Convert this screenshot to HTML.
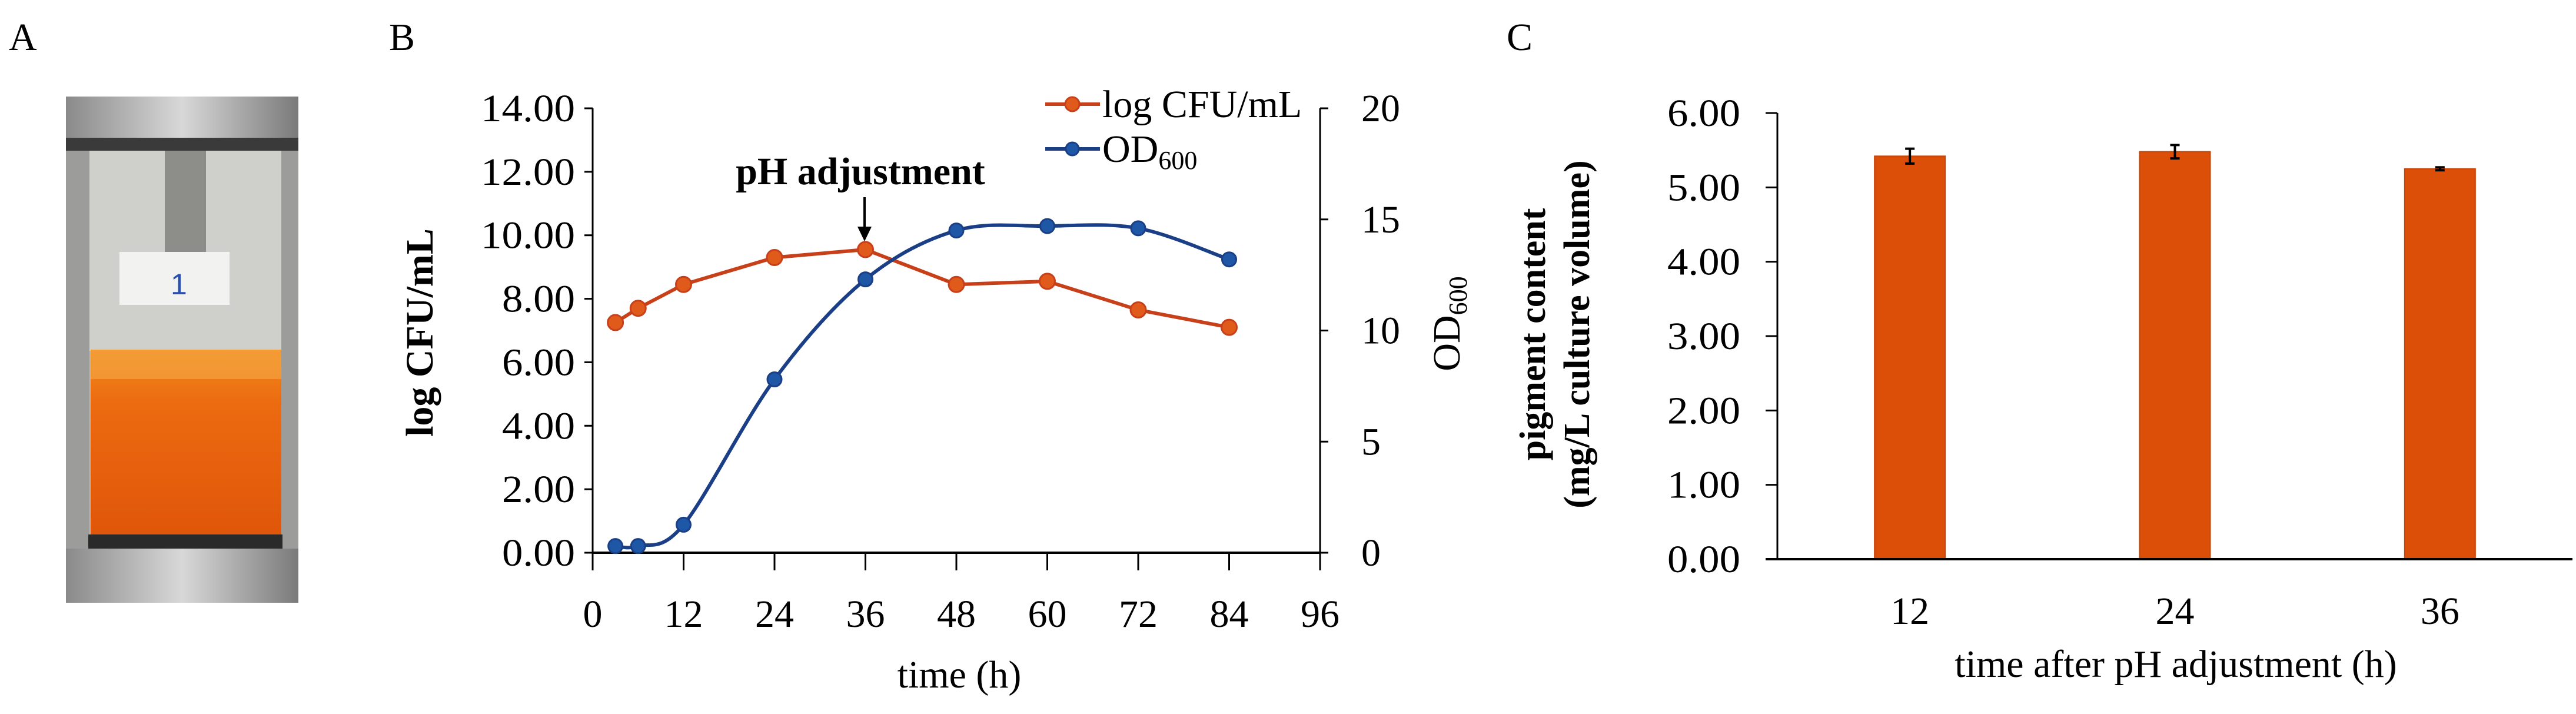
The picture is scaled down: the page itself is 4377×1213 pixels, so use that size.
<!DOCTYPE html>
<html><head><meta charset="utf-8"><style>
html,body{margin:0;padding:0;background:#fff;}
svg{display:block;font-family:"Liberation Serif",serif;}
</style></head><body>
<svg id="fig" width="4377" height="1213" viewBox="0 0 4377 1213" xmlns="http://www.w3.org/2000/svg">
<defs>
<linearGradient id="liq" x1="0" y1="0" x2="0" y2="1"><stop offset="0" stop-color="#f08a1c"/><stop offset="0.3" stop-color="#ec6a10"/><stop offset="1" stop-color="#e0560a"/></linearGradient>
<linearGradient id="metal" x1="0" y1="0" x2="1" y2="0"><stop offset="0" stop-color="#8a8a8a"/><stop offset="0.5" stop-color="#d8d8d8"/><stop offset="1" stop-color="#7a7a7a"/></linearGradient>
</defs>
<g>
<rect x="112" y="164" width="395" height="860" fill="#b9b9b6"/>
<rect x="112" y="164" width="395" height="70" fill="url(#metal)"/>
<rect x="112" y="234" width="395" height="22" fill="#3a3a3a"/>
<rect x="140" y="256" width="350" height="340" fill="#cfd0cc"/>
<rect x="280" y="256" width="70" height="200" fill="#8d8d8a"/>
<rect x="203" y="428" width="187" height="90" fill="#f2f2f0"/>
<text x="290" y="500" font-size="50" fill="#2a4fb0" font-family="Liberation Sans,sans-serif">1</text>
<rect x="154" y="594" width="324" height="314" fill="url(#liq)"/>
<rect x="154" y="594" width="324" height="50" fill="#f4a340" opacity="0.7"/>
<rect x="112" y="256" width="40" height="760" fill="#9c9c9a"/>
<rect x="478" y="256" width="29" height="760" fill="#9c9c9a"/>
<rect x="150" y="908" width="330" height="24" fill="#2a2a2a"/>
<rect x="112" y="932" width="395" height="92" fill="url(#metal)"/>
</g>
<text x="15" y="85" font-size="66">A</text>
<text x="661" y="85" font-size="66">B</text>
<text x="2560" y="85" font-size="66">C</text>
<g id="chartB"></g>
<g id="chartC"></g>
</svg>
<script>
const ns="http://www.w3.org/2000/svg";
function mk(parent,tag,attrs,txt){const e=document.createElementNS(ns,tag);for(const k in attrs)e.setAttribute(k,attrs[k]);if(txt!==undefined)e.textContent=txt;parent.appendChild(e);return e;}

// ---- Chart B data ----
const timeH=[3,6,12,24,36,48,60,72,84];
const logCFU=[7.25,7.7,8.45,9.3,9.55,8.45,8.55,7.65,7.1];
const od600=[0.3,0.3,1.26,7.8,12.3,14.5,14.7,14.6,13.2];
const xTicksB=[0,12,24,36,48,60,72,84,96];
const yLeftTicks=["0.00","2.00","4.00","6.00","8.00","10.00","12.00","14.00"];
const yRightTicks=["0","5","10","15","20"];

const B=document.getElementById('chartB');
const bx0=1007,bx1=2243,by0=939,by1=184;
const xB=v=>bx0+(v/96)*(bx1-bx0);
const yL=v=>by0-(v/14)*(by0-by1);
const yR=v=>by0-(v/20)*(by0-by1);
let e;
e=mk(B,'line',{x1:bx0,y1:by0,x2:bx1,y2:by0,stroke:'#000','stroke-width':4});

e=mk(B,'line',{x1:bx0,y1:by1,x2:bx0,y2:by0+2,stroke:'#000','stroke-width':3});

e=mk(B,'line',{x1:bx1,y1:by1,x2:bx1,y2:by0+30,stroke:'#000','stroke-width':3});

xTicksB.forEach(t=>{
 mk(B,'line',{x1:xB(t),y1:by0,x2:xB(t),y2:by0+30,stroke:'#000','stroke-width':3});
 e=mk(B,'text',{x:xB(t),y:1065,'font-size':66,'text-anchor':'middle'},String(t));
 
});
yLeftTicks.forEach((t,i)=>{
 const y=yL(i*2);
 mk(B,'line',{x1:bx0-14,y1:y,x2:bx0,y2:y,stroke:'#000','stroke-width':3});
 e=mk(B,'text',{x:bx0-30,y:y+22,'font-size':66,'text-anchor':'end','textLength':i>=5?160:124,'lengthAdjust':'spacingAndGlyphs'},t);
 
});
yRightTicks.forEach((t,i)=>{
 const y=yR(i*5);
 mk(B,'line',{x1:bx1,y1:y,x2:bx1+14,y2:y,stroke:'#000','stroke-width':3});
 e=mk(B,'text',{x:bx1+70,y:y+22,'font-size':66,'text-anchor':'start'},t);
 
});
e=mk(B,'text',{x:1630,y:1168,'font-size':66,'text-anchor':'middle'},'time (h)');

e=mk(B,'text',{transform:'translate(735,565) rotate(-90)','font-size':66,'font-weight':'bold','text-anchor':'middle'},'log CFU/mL');

e=mk(B,'text',{transform:'translate(2480,550) rotate(-90)','font-size':66,'text-anchor':'middle'});

mk(e,'tspan',{},'OD');mk(e,'tspan',{'font-size':44,dy:12},'600');

function smooth(pts){let d=`M${pts[0][0]},${pts[0][1]}`;for(let i=0;i<pts.length-1;i++){const p0=pts[Math.max(0,i-1)],p1=pts[i],p2=pts[i+1],p3=pts[Math.min(pts.length-1,i+2)];const c1=[p1[0]+(p2[0]-p0[0])/6,p1[1]+(p2[1]-p0[1])/6],c2=[p2[0]-(p3[0]-p1[0])/6,p2[1]-(p3[1]-p1[1])/6];d+=` C${c1[0]},${c1[1]} ${c2[0]},${c2[1]} ${p2[0]},${p2[1]}`;}return d;}
const red='#c8401a',blue='#1b3f86';
const rp=timeH.map((t,i)=>[xB(t),yL(logCFU[i])]);
e=mk(B,'polyline',{points:rp.map(p=>p.join(',')).join(' '),fill:'none',stroke:red,'stroke-width':6});

const bp=timeH.map((t,i)=>[xB(t),yR(od600[i])]);
e=mk(B,'path',{d:smooth(bp),fill:'none',stroke:blue,'stroke-width':6});

rp.forEach(p=>{e=mk(B,'circle',{cx:p[0],cy:p[1],r:13,fill:'#e05a1c',stroke:red,'stroke-width':3});
 });
bp.forEach(p=>{e=mk(B,'circle',{cx:p[0],cy:p[1],r:12,fill:'#1d57a6',stroke:blue,'stroke-width':3});
 });
e=mk(B,'text',{x:1462,y:313,'font-size':66,'font-weight':'bold','text-anchor':'middle'},'pH adjustment');

mk(B,'line',{x1:1469,y1:335,x2:1469,y2:392,stroke:'#000','stroke-width':4});
mk(B,'path',{d:'M1457,385 L1481,385 L1469,410 Z',fill:'#000'});
const lg=mk(B,'g',{});

mk(lg,'line',{x1:1776,y1:177,x2:1869,y2:177,stroke:red,'stroke-width':6});
mk(lg,'circle',{cx:1822,cy:177,r:12,fill:'#e05a1c',stroke:red,'stroke-width':3});
e=mk(lg,'text',{x:1873,y:199,'font-size':66},'log CFU/mL');

mk(lg,'line',{x1:1776,y1:253,x2:1869,y2:253,stroke:blue,'stroke-width':6});
mk(lg,'circle',{cx:1822,cy:253,r:11,fill:'#1d57a6',stroke:blue,'stroke-width':3});
e=mk(lg,'text',{x:1873,y:275,'font-size':66});

mk(e,'tspan',{},'OD');mk(e,'tspan',{'font-size':44,dy:12},'600');

// ---- Chart C data ----
const catsC=["12","24","36"];
const pigment=[5.42,5.48,5.25];
const pigErr=[0.1,0.09,0.02];
const yTicksC=["0.00","1.00","2.00","3.00","4.00","5.00","6.00"];
const C=document.getElementById('chartC');
const cx0=3020,cx1=4371,cy0=950,cy1=192;
const yC=v=>cy0-(v/6)*(cy0-cy1);
const band=(cx1-cx0)/catsC.length;
const xC=i=>cx0+band*(i+0.5);
yTicksC.forEach((t,i)=>{
 const y=yC(i);
 mk(C,'line',{x1:cx0-20,y1:y,x2:cx0,y2:y,stroke:'#000','stroke-width':3});
 e=mk(C,'text',{x:2957,y:y+22,'font-size':66,'text-anchor':'end','textLength':124,'lengthAdjust':'spacingAndGlyphs'},t);
 
});
catsC.forEach((c,i)=>{
 const h=cy0-yC(pigment[i]);
 e=mk(C,'rect',{x:xC(i)-60,y:yC(pigment[i]),width:120,height:h,fill:'#dc4f08',stroke:'#c74406','stroke-width':2});
 
 const yt=yC(pigment[i]+pigErr[i]),yb=yC(pigment[i]-pigErr[i]);
 e=mk(C,'path',{d:`M${xC(i)},${yt} L${xC(i)},${yb} M${xC(i)-8},${yt} L${xC(i)+8},${yt} M${xC(i)-8},${yb} L${xC(i)+8},${yb}`,stroke:'#000','stroke-width':4,fill:'none'});
 
 e=mk(C,'text',{x:xC(i),y:1060,'font-size':66,'text-anchor':'middle'},c);
 
});
e=mk(C,'line',{x1:cx0-20,y1:cy0,x2:cx1,y2:cy0,stroke:'#000','stroke-width':4});

e=mk(C,'line',{x1:cx0,y1:cy1,x2:cx0,y2:cy0,stroke:'#000','stroke-width':3});

e=mk(C,'text',{x:3697,y:1150,'font-size':66,'text-anchor':'middle'},'time after pH adjustment (h)');

e=mk(C,'text',{transform:'translate(2625,568) rotate(-90)','font-size':62,'font-weight':'bold','text-anchor':'middle'},'pigment content');

e=mk(C,'text',{transform:'translate(2700,568) rotate(-90)','font-size':62,'font-weight':'bold','text-anchor':'middle'},'(mg/L culture volume)');

</script>
</body></html>
